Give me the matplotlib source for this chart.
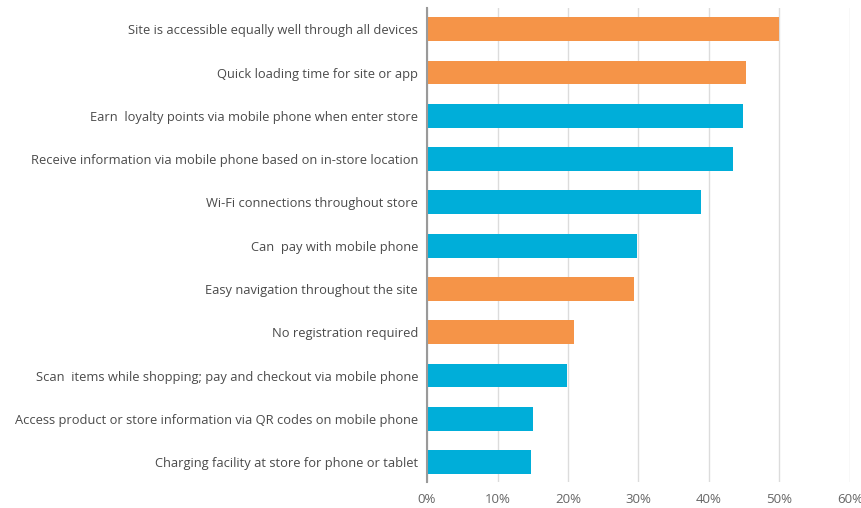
import matplotlib.pyplot as plt
import numpy as np

labels = [
    "Site is accessible equally well through all devices",
    "Quick loading time for site or app",
    "Earn  loyalty points via mobile phone when enter store",
    "Receive information via mobile phone based on in-store location",
    "Wi-Fi connections throughout store",
    "Can  pay with mobile phone",
    "Easy navigation throughout the site",
    "No registration required",
    "Scan  items while shopping; pay and checkout via mobile phone",
    "Access product or store information via QR codes on mobile phone",
    "Charging facility at store for phone or tablet",
]
values = [50.0, 45.2, 44.8, 43.4, 38.9, 29.8, 29.4, 20.8, 19.8, 15.0, 14.8]
groups = ["site", "site", "store", "store", "store", "store", "site", "site", "store", "store", "store"]

colors = {"site": "#F59448", "store": "#00AED9"}
x_ticks = [0, 10, 20, 30, 40, 50, 60]

plt.rcParams['font.family'] = ['Open Sans', 'DejaVu Sans']

fig = plt.figure(figsize=(8.62, 5.08), dpi=100)
ax = fig.add_axes([0.4954, 0.0512, 0.4906, 0.9330])

y = np.arange(len(labels))
ax.barh(y, values, height=0.55, color=[colors[g] for g in groups], zorder=3)

ax.set_ylim(10.46, -0.49)
ax.set_xlim(0, 60)
ax.set_yticks(y)
ax.set_yticklabels(labels, fontsize=9.3, color="#4a4a4a")
ax.set_xticks(x_ticks)
ax.set_xticklabels([f"{t}%" for t in x_ticks], fontsize=9.5, color="#666666")
ax.tick_params(axis="y", length=0, pad=6.5)
ax.tick_params(axis="x", length=0, pad=8)

ax.grid(axis="x", color="#dcdcdc", linewidth=1, zorder=0)
for side in ["top", "right", "bottom"]:
    ax.spines[side].set_visible(False)
ax.spines["left"].set_color("#9a9a9a")
ax.spines["left"].set_linewidth(1.5)
ax.spines["left"].set_zorder(4)

fig.savefig("out.png", dpi=100)
